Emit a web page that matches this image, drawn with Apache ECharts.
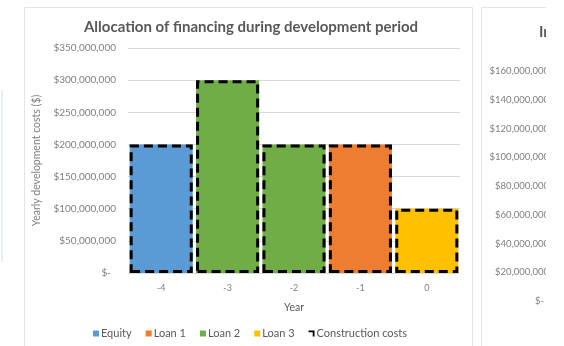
<!DOCTYPE html>
<html>
<head>
<meta charset="utf-8">
<script src="https://cdn.jsdelivr.net/npm/echarts@6/dist/echarts.min.js"></script>
<style>
  html, body { margin: 0; padding: 0; background: #fff; }
  #chart { width: 564px; height: 346px; }
</style>
</head>
<body>
<div id="chart"></div>
<script>
  var years = ['-4', '-3', '-2', '-1', '0'];
  var equity = [200000000, '-', '-', '-', '-'];
  var loan1 = ['-', '-', '-', 200000000, '-'];
  var loan2 = ['-', 300000000, 200000000, '-', '-'];
  var loan3 = ['-', '-', '-', '-', 100000000];
  var construction = [200000000, 300000000, 200000000, 200000000, 100000000];
  // second (cropped) chart on the right: only its value axis is visible
  var rightMax = 160000000;
  var rightStep = 20000000;

  var font = 'Lato';
  var grey = '#595959';

  function money(v) {
    if (v === 0) return '{z|$-}';
    return '$' + v.toLocaleString('en-US');
  }

  var myChart = echarts.init(document.getElementById('chart'));
  var option = {
    animation: false,
    textStyle: {fontFamily: font},
    title: [
      {
        text: 'Allocation of financing during development period',
        left: 246, top: 15, textAlign: 'center',
        textStyle: {fontSize: 15, fontWeight: 'bold', color: grey, fontFamily: font}
      },
      {
        text: 'Interest during construction',
        left: 534, top: 20,
        textStyle: {fontSize: 15, fontWeight: 'bold', color: grey, fontFamily: font}
      }
    ],
    legend: {
      bottom: 2,
      left: 88,
      itemWidth: 6,
      itemHeight: 6,
      itemGap: 14,
      textStyle: {fontSize: 11, color: grey, padding: [0, 0, 0, -3]},
      data: [
        {name: 'Equity', icon: 'rect'},
        {name: 'Loan 1', icon: 'rect'},
        {name: 'Loan 2', icon: 'rect'},
        {name: 'Loan 3', icon: 'rect'},
        {name: 'Construction costs', icon: 'path://M0,0 L10,0 L10,10 L7,10 L7,3 L0,3 Z', itemStyle: {color: '#000', borderWidth: 0}}
      ]
    },
    grid: [
      {left: 128, right: 104, top: 48, bottom: 73},
      {left: 553, top: 71, width: 100, height: 230}
    ],
    xAxis: [
      {
        type: 'category',
        data: years,
        gridIndex: 0,
        name: 'Year',
        nameLocation: 'middle',
        nameGap: 29,
        nameTextStyle: {fontSize: 10.5, color: grey},
        axisLine: {show: false},
        axisTick: {show: false},
        axisLabel: {fontSize: 9, color: '#7f7f7f', margin: 11}
      },
      {
        type: 'category',
        data: years,
        gridIndex: 1,
        show: false
      }
    ],
    yAxis: [
      {
        type: 'value',
        gridIndex: 0,
        min: 0,
        max: 350000000,
        interval: 50000000,
        name: 'Yearly development costs ($)',
        nameLocation: 'middle',
        nameGap: 80,
        nameTextStyle: {fontSize: 10.5, color: '#7f7f7f'},
        axisLine: {show: false},
        axisTick: {show: false},
        splitLine: {lineStyle: {color: '#d9d9d9', width: 1}},
        axisLabel: {
          fontSize: 10, color: '#7f7f7f', margin: 12,
          formatter: money,
          rich: {z: {fontSize: 10, color: '#7f7f7f', padding: [0, 5, 0, 0]}}
        }
      },
      {
        type: 'value',
        gridIndex: 1,
        min: 0,
        max: rightMax,
        interval: rightStep,
        axisLine: {show: false},
        axisTick: {show: false},
        splitLine: {show: false},
        axisLabel: {
          fontSize: 9.5, color: '#7f7f7f', margin: 4,
          formatter: money,
          rich: {z: {fontSize: 9.5, color: '#7f7f7f', padding: [0, 5, 0, 0]}}
        }
      }
    ],
    graphic: [
      {type: 'rect', shape: {x: 24.5, y: 7.5, width: 448, height: 360}, style: {fill: 'none', stroke: '#e4e4e4', lineWidth: 1}, z: -1},
      {type: 'rect', shape: {x: 481.5, y: 7.5, width: 200, height: 360}, style: {fill: 'none', stroke: '#e4e4e4', lineWidth: 1}, z: -1},
      {type: 'line', shape: {x1: 2, y1: 90, x2: 2, y2: 262}, style: {stroke: '#e6eef8', lineWidth: 2}},
      {type: 'rect', shape: {x: 546, y: 0, width: 20, height: 346}, style: {fill: '#fff'}, z: 100}
    ],
    series: [
      {name: 'Equity', type: 'bar', stack: 'fin', data: equity, itemStyle: {color: '#5b9bd5'}, barCategoryGap: '5%'},
      {name: 'Loan 1', type: 'bar', stack: 'fin', data: loan1, itemStyle: {color: '#ed7d31'}},
      {name: 'Loan 2', type: 'bar', stack: 'fin', data: loan2, itemStyle: {color: '#70ad47'}},
      {name: 'Loan 3', type: 'bar', stack: 'fin', data: loan3, itemStyle: {color: '#ffc000'}},
      {
        name: 'Construction costs',
        type: 'bar',
        data: construction,
        barGap: '-100%',
        z: 3,
        itemStyle: {color: 'rgba(0,0,0,0)', borderColor: '#000', borderWidth: 3, borderType: [9, 5]}
      }
    ]
  };
  myChart.setOption(option);
</script>
</body>
</html>
